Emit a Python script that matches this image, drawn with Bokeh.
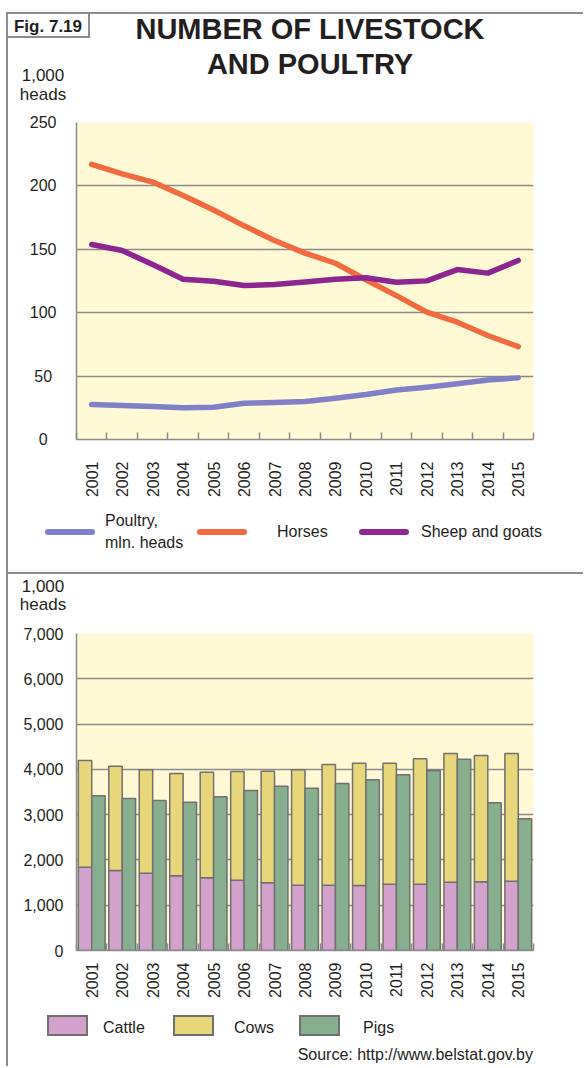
from bokeh.plotting import figure
from bokeh.models import (Range1d, FixedTicker, Div, Spacer, NumeralTickFormatter,
                          ColumnDataSource)
from bokeh.layouts import row, column
from bokeh.transform import dodge
from bokeh.embed import file_html
from bokeh.resources import INLINE

# ---------------- data ----------------
years = [str(y) for y in range(2001, 2016)]
poultry = [27.6, 26.8, 26.0, 25.0, 25.5, 28.6, 29.2, 30.0, 32.6, 35.5, 39.0, 41.2, 43.9, 47.0, 48.6]
horses = [217, 209.5, 203, 192.5, 181, 168.5, 157, 147, 139, 126, 113.5, 100.5, 92.5, 82, 73.3]
sheep_goats = [153.8, 149, 138, 126.4, 124.8, 121.4, 122.2, 124.3, 126.4, 127.5, 124, 125.1, 134, 131.2, 141.2]

cattle = [1840, 1766, 1707, 1649, 1604, 1553, 1494, 1443, 1443, 1435, 1464, 1464, 1509, 1516, 1531]
cows = [2355, 2304, 2283, 2259, 2334, 2399, 2466, 2546, 2664, 2701, 2672, 2768, 2841, 2790, 2819]
pigs = [3415, 3356, 3312, 3275, 3393, 3533, 3628, 3584, 3687, 3768, 3879, 3975, 4225, 3261, 2907]

top_ticks = [0, 50, 100, 150, 200, 250]
bottom_ticks = [0, 1000, 2000, 3000, 4000, 5000, 6000, 7000]

title_lines = ["NUMBER OF LIVESTOCK", "AND POULTRY"]
fig_label = "Fig. 7.19"
unit_lines = ["1,000", "heads"]
line_names = ["Poultry,<br>mln. heads", "Horses", "Sheep and goats"]
bar_names = ["Cattle", "Cows", "Pigs"]
source_text = "Source: http://www.belstat.gov.by"

# ---------------- style ----------------
FONT = "Liberation Sans"
CSS_FONT = "'Liberation Sans', Arial, sans-serif"
TXT = "#231f20"
GRID = "#8a8a8a"
FRAME = "#8c8c8c"
BG = "#fff9d6"
C_POULTRY = "#7f80c6"
C_HORSES = "#f26a41"
C_SHEEP = "#8c2590"
C_CATTLE = "#d2a1cc"
C_COWS = "#e8d67b"
C_PIGS = "#86ae8f"
BAR_LINE = "#707070"
nb = "\u00a0"
W = 575

xs = list(range(1, len(years) + 1))
overrides = {x: y for x, y in zip(xs, years)}
minor = [x + 0.5 for x in range(0, len(years) + 1)]


def style_axes(p, yticks, y_standoff, x_standoff):
    p.background_fill_color = BG
    p.border_fill_color = "white"
    p.outline_line_color = None
    p.xgrid.grid_line_color = None
    p.ygrid.grid_line_color = GRID
    p.ygrid.grid_line_width = 1.5
    p.ygrid.ticker = FixedTicker(ticks=yticks)
    xa = p.xaxis[0]
    xa.ticker = FixedTicker(ticks=xs, minor_ticks=minor)
    xa.major_label_overrides = overrides
    xa.major_label_orientation = 3.14159265 / 2
    xa.major_tick_line_color = None
    xa.major_tick_out = 0
    xa.major_tick_in = 0
    xa.minor_tick_line_color = GRID
    xa.minor_tick_line_width = 1.5
    xa.minor_tick_in = 7
    xa.minor_tick_out = 0
    xa.axis_line_color = GRID
    xa.axis_line_width = 1.5
    xa.major_label_standoff = x_standoff
    xa.major_label_text_font = FONT
    xa.major_label_text_font_size = "16px"
    xa.major_label_text_color = TXT
    ya = p.yaxis[0]
    ya.ticker = FixedTicker(ticks=yticks)
    ya.major_tick_line_color = None
    ya.major_tick_out = 0
    ya.major_tick_in = 0
    ya.minor_tick_line_color = None
    ya.axis_line_color = GRID
    ya.axis_line_width = 1.5
    ya.major_label_standoff = y_standoff
    ya.major_label_text_font = FONT
    ya.major_label_text_font_size = "16px"
    ya.major_label_text_color = TXT


def html_div(h, inner):
    return Div(width=W, height=h, margin=0,
               styles={"font-size": "0px", "line-height": "0px", "overflow": "visible"},
               text=(f'<div style="position:relative;width:{W}px;height:{h}px;'
                     f'font-family:{CSS_FONT};color:{TXT};">{inner}</div>'))


def abs_box(left, top, inner="", style=""):
    return f'<div style="position:absolute;left:{left}px;top:{top}px;{style}">{inner}</div>'


def bar_div(w, h):
    return Div(text="", width=w, height=h, margin=0,
               styles={"background-color": FRAME, "font-size": "0px", "line-height": "0px"})


# ---------------- header 1 ----------------
hdr1 = html_div(96,
    abs_box(0, 0, fig_label,
            f"width:82px;height:24px;border-right:2px solid {FRAME};"
            f"border-bottom:2px solid {FRAME};font-weight:bold;font-size:17px;"
            "line-height:25px;text-align:center;")
    + abs_box(102, -2, "<br>".join(title_lines),
              "width:400px;font-weight:bold;font-size:29px;line-height:35px;"
              "text-align:center;white-space:nowrap;")
    + abs_box(10, 52, "<br>".join(unit_lines),
              "width:50px;font-size:17px;line-height:19px;text-align:center;"))

# ---------------- top figure: lines ----------------
p1 = figure(width=W, height=392, output_backend="svg", toolbar_location=None,
            x_range=Range1d(0.5, len(years) + 0.5), y_range=Range1d(0, 250),
            min_border_left=68, min_border_right=50, min_border_top=12,
            min_border_bottom=63, margin=0)
style_axes(p1, top_ticks, 20, 22)
p1.yaxis[0].major_label_overrides = {0: "0" + nb * 2, 50: "50" + nb}

src1 = ColumnDataSource(dict(x=xs, poultry=poultry, horses=horses, sheep=sheep_goats))
line_colors = [C_POULTRY, C_HORSES, C_SHEEP]
for col, c in zip(["poultry", "horses", "sheep"], line_colors):
    p1.line("x", col, source=src1, line_color=c, line_width=5.5,
            line_cap="round", line_join="round")


def lsample(left, c):
    return abs_box(left, 27, "", f"width:50px;height:6px;border-radius:3px;background:{c};")


def ltext(left, top, text, lh=22):
    return abs_box(left, top, text, f"font-size:16px;line-height:{lh}px;white-space:nowrap;")


leg1 = html_div(70,
    lsample(37, line_colors[0]) + ltext(97, 8, line_names[0])
    + lsample(189, line_colors[1]) + ltext(269, 19, line_names[1])
    + lsample(351, line_colors[2]) + ltext(413, 19, line_names[2]))

# ---------------- header 2 ----------------
hdr2 = html_div(48, abs_box(10, 4, "<br>".join(unit_lines),
                            "width:50px;font-size:17px;line-height:18px;text-align:center;"))

# ---------------- bottom figure: bars ----------------
p2 = figure(width=W, height=380, output_backend="svg", toolbar_location=None,
            x_range=Range1d(0.5, len(years) + 0.5), y_range=Range1d(0, 7000),
            min_border_left=68, min_border_right=50, min_border_top=11,
            min_border_bottom=52, margin=0)
style_axes(p2, bottom_ticks, 13, 12)
p2.yaxis[0].formatter = NumeralTickFormatter(format="0,0")

src2 = ColumnDataSource(dict(x=xs, cattle=cattle, cows=cows, pigs=pigs))
bar_colors = [C_CATTLE, C_COWS, C_PIGS]
p2.vbar_stack(["cattle", "cows"], x=dodge("x", -0.22, range=p2.x_range),
              width=0.44, source=src2, fill_color=bar_colors[:2],
              line_color=BAR_LINE, line_width=1.5)
p2.vbar(x=dodge("x", 0.22, range=p2.x_range), top="pigs", width=0.44,
        source=src2, fill_color=bar_colors[2], line_color=BAR_LINE, line_width=1.5)


def bsample(left, c):
    return abs_box(left, 13, "", f"width:41px;height:21px;border:2px solid {BAR_LINE};background:{c};")


leg2 = html_div(64,
    bsample(39, bar_colors[0]) + ltext(95, 15, bar_names[0])
    + bsample(165, bar_colors[1]) + ltext(226, 15, bar_names[1])
    + bsample(291, bar_colors[2]) + ltext(355, 15, bar_names[2])
    + abs_box(0, 45, source_text,
              "width:525px;text-align:right;font-size:16px;line-height:16px;white-space:nowrap;"))

# ---------------- frame lines & layout ----------------
left = column(Spacer(width=2, height=12, margin=0), bar_div(2, 1054), spacing=0)
right = column(Spacer(width=W, height=12, margin=0), bar_div(W, 2), hdr1, p1, leg1,
               bar_div(W, 2), hdr2, p2, leg2, spacing=0)
page = row(Spacer(width=6, height=10, margin=0), left, right, spacing=0)

open("out.html", "w").write(file_html(page, INLINE))
